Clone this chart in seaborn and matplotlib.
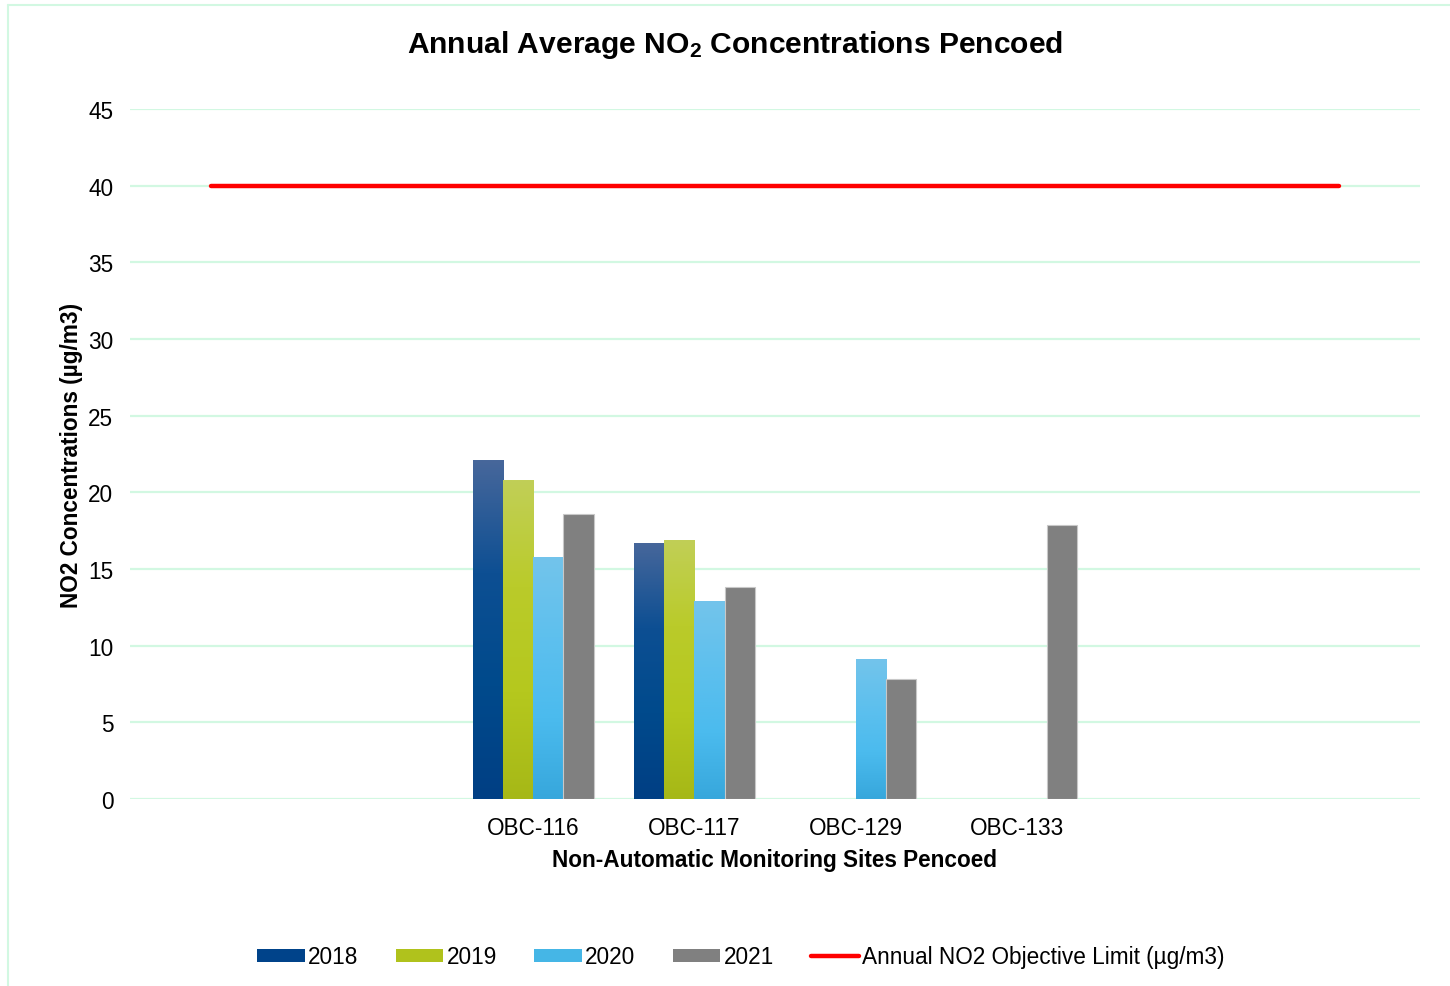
import numpy as np
import pandas as pd
import matplotlib
matplotlib.use("Agg")
import matplotlib.pyplot as plt
import matplotlib.patheffects as pe
from matplotlib.colors import LinearSegmentedColormap
from matplotlib.lines import Line2D
from matplotlib.patches import Patch
import seaborn as sns

# Monitoring sites (outer slots are left empty on the category axis)
sites = ["", " ", "OBC-116", "OBC-117", "OBC-129", "OBC-133", "  ", "   "]
years = ["2018", "2019", "2020", "2021"]
no2_2018 = [np.nan, np.nan, 22.1, 16.7, np.nan, np.nan, np.nan, np.nan]
no2_2019 = [np.nan, np.nan, 20.8, 16.9, np.nan, np.nan, np.nan, np.nan]
no2_2020 = [np.nan, np.nan, 15.8, 12.9, 9.1, np.nan, np.nan, np.nan]
no2_2021 = [np.nan, np.nan, 18.6, 13.8, 7.8, 17.9, np.nan, np.nan]
objective_limit = 40

series = {"2018": no2_2018, "2019": no2_2019, "2020": no2_2020, "2021": no2_2021}
df = pd.DataFrame(
    [(s, y, v) for y, vals in series.items() for s, v in zip(sites, vals)],
    columns=["site", "year", "value"],
)

sns.set_theme(style="white")
plt.rcParams["font.family"] = ["Liberation Sans", "DejaVu Sans"]
plt.rcParams["mathtext.default"] = "regular"
plt.rcParams["text.color"] = "black"
plt.rcParams["axes.labelcolor"] = "black"
plt.rcParams["xtick.color"] = "black"
plt.rcParams["ytick.color"] = "black"

FS = 16.3

flat_colors = {"2018": "#00438a", "2019": "#b0c21c", "2020": "#45b6e6", "2021": "#808080"}
gradients = {
    "2018": ["#47679b", "#0d4f93", "#004a8c", "#003f84"],
    "2019": ["#c1cf57", "#bacb2a", "#b5c81e", "#a6b817"],
    "2020": ["#73c4eb", "#5ec0ee", "#4bbbee", "#37a7dc"],
}

fig = plt.figure(figsize=(14.5, 9.87), dpi=100)
ax = fig.add_axes([130 / 1450, 1 - 800 / 987, 1290 / 1450, 690 / 987])

sns.barplot(
    data=df, x="site", y="value", hue="year", order=sites, hue_order=years,
    palette=flat_colors, width=0.75, dodge=True, errorbar=None,
    saturation=1, legend=False, ax=ax,
)

# Gradient fills for the first three years, flat grey with a soft shadow for 2021
for container, year in zip(ax.containers, years):
    for bar in container:
        h = bar.get_height()
        if not np.isfinite(h) or h <= 0:
            continue
        x0, w = bar.get_x(), bar.get_width()
        if year in gradients:
            bar.set_facecolor("none")
            bar.set_edgecolor("none")
            cmap = LinearSegmentedColormap.from_list(year, gradients[year][::-1])
            grad = np.linspace(0, 1, 256).reshape(-1, 1)
            im = ax.imshow(grad, cmap=cmap, aspect="auto", origin="lower",
                           extent=(x0, x0 + w, 0, h), zorder=2)
            im.set_clip_path(bar)
        else:
            bar.set_edgecolor("#c8c8c8")
            bar.set_linewidth(0.8)
            bar.set_path_effects([
                pe.SimplePatchShadow(offset=(0.5, -1.5), shadow_rgbFace="#555555", alpha=0.8),
                pe.Normal(),
            ])
            bar.set_zorder(3)

# Annual objective limit across all category slots
limit_df = pd.DataFrame({"pos": np.arange(len(sites)), "limit": [objective_limit] * len(sites)})
sns.lineplot(data=limit_df, x="pos", y="limit", color="#ff0000", linewidth=3.2,
             ax=ax, zorder=4)

ax.set_xlim(-0.5, len(sites) - 0.5)
ax.set_ylim(0, 45)
ax.set_yticks(np.arange(0, 46, 5))
ax.set_xticks(np.arange(len(sites)))
ax.set_xticklabels(sites)
ax.tick_params(axis="both", labelsize=FS, colors="#000000", length=0)
ax.tick_params(axis="x", pad=12)
ax.tick_params(axis="y", pad=12)
ax.yaxis.grid(True, color="#d2f8e2", linewidth=1.6)
ax.set_axisbelow(True)
for side in ["top", "right", "left", "bottom"]:
    ax.spines[side].set_visible(False)

ax.set_xlabel("Non-Automatic Monitoring Sites Pencoed", fontsize=FS,
              fontweight="bold", labelpad=7)
ax.set_ylabel("NO2 Concentrations (µg/m3)", fontsize=FS, fontweight="bold",
              labelpad=4)
fig.text(0.507, 1 - 45 / 987, r"Annual Average NO$_2$ Concentrations Pencoed",
         ha="center", va="center", fontsize=21.6, fontweight="bold")

# Legend along the bottom
handles = [Patch(facecolor=flat_colors[y], edgecolor="none", label=y) for y in years]
handles.append(Line2D([0], [0], color="#ff0000", lw=3.2,
                      label="Annual NO2 Objective Limit (µg/m3)"))
fig.legend(handles=handles, loc="center", bbox_to_anchor=(0.511, 1 - 958 / 987),
           ncol=5, frameon=False, fontsize=FS, handlelength=2.1,
           handleheight=0.45, handletextpad=0.15, columnspacing=1.65)

# Thin chart-area border on the left and top
fig.add_artist(Line2D([8 / 1450, 8 / 1450], [0, 1 - 6 / 987],
                      transform=fig.transFigure, color="#d2f8e2", lw=1.5))
fig.add_artist(Line2D([8 / 1450, 1], [1 - 6 / 987, 1 - 6 / 987],
                      transform=fig.transFigure, color="#d2f8e2", lw=1.5))

fig.savefig("out.png", dpi=100, facecolor="white")
